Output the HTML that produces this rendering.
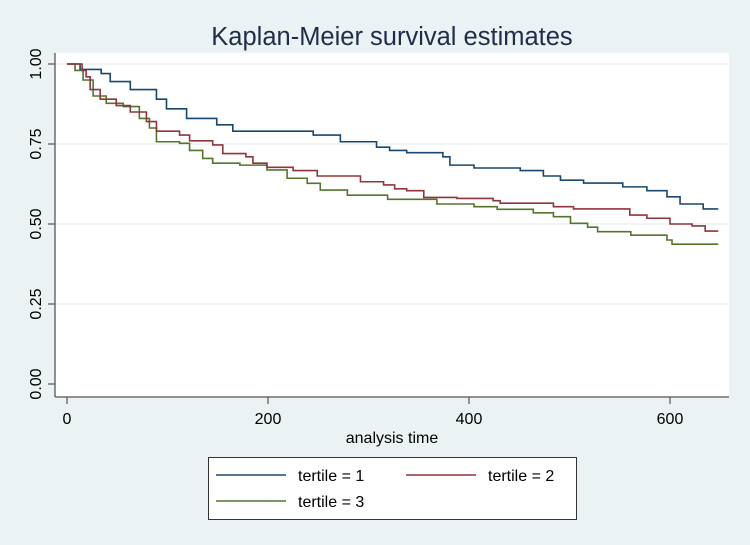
<!DOCTYPE html>
<html><head><meta charset="utf-8"><style>
html,body{margin:0;padding:0;background:#eaf2f3;}
svg{display:block;font-family:"Liberation Sans",Arial,sans-serif;}
</style></head><body>
<svg id="chart" width="750" height="545" viewBox="0 0 750 545">
<rect x="0" y="0" width="750" height="545" fill="#eaf2f3"/>
<text x="392" y="45" font-size="25.5" text-anchor="middle" fill="#1e2d4a">Kaplan-Meier survival estimates</text>
<rect x="55" y="53" width="674" height="344" fill="#ffffff"/>
<g id="grid"></g><g id="axes"></g><g id="series"></g>
<text x="392" y="443" font-size="16" text-anchor="middle" fill="#000">analysis time</text>
<g>
<rect x="208.5" y="457.5" width="368" height="62" fill="#fff" stroke="#333" stroke-width="1"/>
<line x1="216" y1="475" x2="286" y2="475" stroke="#1a476f" stroke-width="1.6"/>
<text x="298" y="481" font-size="16">tertile = 1</text>
<line x1="406" y1="475" x2="476" y2="475" stroke="#90353b" stroke-width="1.6"/>
<text x="488" y="481" font-size="16">tertile = 2</text>
<line x1="216" y1="501" x2="286" y2="501" stroke="#55752f" stroke-width="1.6"/>
<text x="298" y="507" font-size="16">tertile = 3</text>
</g>
</svg>
<script>
const xTicks=[0,200,400,600];
const yTicks=[0,0.25,0.5,0.75,1];
const yTickLabels=["0.00","0.25","0.50","0.75","1.00"];
const t1Times=[0,13,34,43,63,89,99,119,149,165,245,272,308,321,338,374,381,405,451,474,491,514,553,577,597,610,633,648];
const t1Surv=[1,0.983,0.97,0.945,0.92,0.89,0.86,0.83,0.81,0.79,0.778,0.757,0.74,0.73,0.723,0.71,0.684,0.675,0.667,0.65,0.637,0.628,0.616,0.604,0.585,0.5625,0.547,0.547];
const t2Times=[0,15,19,23,33,49,63,79,89,112,122,145,155,178,185,199,225,249,292,315,326,338,355,388,424,431,484,504,560,577,600,622,635,648];
const t2Surv=[1,0.98,0.96,0.92,0.89,0.87,0.85,0.82,0.79,0.778,0.76,0.747,0.72,0.71,0.69,0.677,0.667,0.65,0.632,0.622,0.61,0.604,0.583,0.58,0.573,0.565,0.554,0.547,0.528,0.518,0.5,0.494,0.478,0.478];
const t3Times=[0,8,16,26,39,56,72,82,89,112,122,135,145,172,199,219,239,252,279,319,368,405,428,464,484,501,518,528,561,597,602,648];
const t3Surv=[1,0.98,0.95,0.9,0.877,0.867,0.83,0.8,0.757,0.752,0.73,0.705,0.69,0.684,0.669,0.643,0.627,0.606,0.59,0.577,0.5625,0.554,0.546,0.535,0.523,0.502,0.49,0.476,0.465,0.45,0.437,0.437];
const NS='http://www.w3.org/2000/svg';
const xs=t=>67+t*1.005;
const ys=v=>384-v*320;
function mk(tag,attrs,parent){const e=document.createElementNS(NS,tag);for(const k in attrs)e.setAttribute(k,attrs[k]);parent.appendChild(e);return e;}
const grid=document.getElementById('grid'),axes=document.getElementById('axes'),series=document.getElementById('series');
yTicks.forEach((v,i)=>{
  if(v>0){const g=mk('line',{x1:56,x2:729,y1:ys(v),y2:ys(v),stroke:'#e6eef0','stroke-width':1.2},grid);
  
  }
  const tk=mk('line',{x1:48,x2:55,y1:ys(v),y2:ys(v),stroke:'#555','stroke-width':1.2},axes);
  
  
  const tx=mk('text',{x:0,y:0,'font-size':16,'text-anchor':'middle',transform:`translate(41,${ys(v)}) rotate(-90)`},axes);
  tx.textContent=yTickLabels[i];
  
  
});
xTicks.forEach(t=>{
  const tk=mk('line',{x1:xs(t),x2:xs(t),y1:397,y2:404,stroke:'#555','stroke-width':1.2},axes);
  
  
  const tx=mk('text',{x:xs(t),y:424,'font-size':16,'text-anchor':'middle'},axes);
  tx.textContent=String(t);
  
  
});
const ya=mk('line',{x1:55,x2:55,y1:53,y2:397,stroke:'#555','stroke-width':1.3},axes);


const xa=mk('line',{x1:55,x2:729,y1:397,y2:397,stroke:'#555','stroke-width':1.3},axes);


function step(times,surv){let d=`M${xs(times[0])},${ys(surv[0])}`;for(let i=1;i<times.length;i++){d+=` H${xs(times[i])} V${ys(surv[i])}`;}return d;}
[[t1Times,t1Surv,'#1a476f','km-curve-tertile-1'],[t3Times,t3Surv,'#55752f','km-curve-tertile-3'],[t2Times,t2Surv,'#90353b','km-curve-tertile-2']].forEach(s=>{
  const p=mk('path',{d:step(s[0],s[1]),fill:'none',stroke:s[2],'stroke-width':1.6},series);
  
  
});
</script>
</body></html>
